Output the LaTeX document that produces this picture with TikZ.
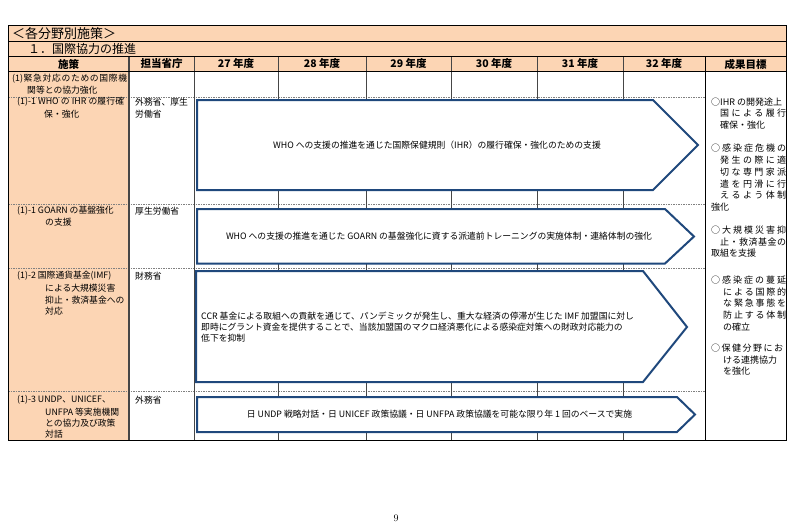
\documentclass[tikz,border=0pt]{standalone}
\usepackage{fontspec}
\newfontfamily\jp{Noto Sans CJK JP}
\usepackage{tikz}
\definecolor{peach}{RGB}{252,213,180}
\definecolor{planblue}{RGB}{31,72,124}
\definecolor{gridgray}{RGB}{70,70,70}
\makeatletter
\newcommand\spreadline[2]{\makebox[#1][s]{\@tfor\sp@tok:=#2\do{\sp@tok\hfil}\unskip}}
\makeatother
\begin{document}
\begin{tikzpicture}[x=1pt,y=-1pt]
\tikzstyle{every node}=[inner sep=0pt,font=\jp\fontsize{8.8}{10}\selectfont]
\tikzstyle{cell}=[anchor=west]
\tikzstyle{head}=[font=\jp\bfseries\fontsize{10.5}{12}\selectfont]
\tikzstyle{goal}=[anchor=west,font=\jp\fontsize{9}{11}\selectfont]
\tikzstyle{plan}=[draw=planblue,line width=2pt,fill=white,line join=miter]
\tikzstyle{plantext}=[font=\jp\fontsize{8.8}{11}\selectfont]
\tikzstyle{grid}=[gridgray,line width=0.7pt]
\tikzstyle{rowline}=[gray,line width=0.5pt,dash pattern=on 1.5pt off 1pt]

\useasboundingbox (0,0) rectangle (800,531);
\fill[peach] (8,25) rectangle (786,71.5);
\fill[peach] (8,71.5) rectangle (129,440);

\draw[rowline] (8,97) -- (705,97) (8,204) -- (705,204) (8,268) -- (705,268) (8,391) -- (705,391);
\draw[grid] (194,56.5) -- (194,440) (278,56.5) -- (278,440) (366,56.5) -- (366,440)
  (451,56.5) -- (451,440) (537,56.5) -- (537,440) (623,56.5) -- (623,440);
\draw[gridgray,line width=1.4pt] (129,56.5) -- (129,440);
\draw[black,line width=0.8pt] (705,56.5) -- (705,440);
\draw[black,line width=0.8pt] (8,41.5) -- (786,41.5) (8,56.5) -- (786,56.5) (8,71.5) -- (786,71.5);
\draw[black,line width=1pt] (8,25) rectangle (786,440);

\draw[plan] (197,100) -- (653,100) -- (698,145) -- (653,190) -- (197,190) -- cycle;
\draw[plan] (197,209) -- (665,209) -- (694,236.5) -- (665,263.5) -- (197,263.5) -- cycle;
\draw[plan] (196,271) -- (643,271) -- (687,327) -- (643,382) -- (196,382) -- cycle;
\draw[plan] (197,397) -- (677,397) -- (695,414.5) -- (677,432) -- (197,432) -- cycle;

\node[anchor=west,font=\jp\fontsize{13}{15}\selectfont] (title) at (12,33.5) {＜各分野別施策＞};
\node[anchor=west,font=\jp\fontsize{12}{14}\selectfont] (field) at (28,49.3) {１．国際協力の推進};

\node[head] (hmeasure) at (68.5,64) {施策};
\node[head] (hmin) at (161.5,64) {担当省庁};
\node[head] (h27) at (236,64) {27 年度};
\node[head] (h28) at (322,64) {28 年度};
\node[head] (h29) at (408.5,64) {29 年度};
\node[head] (h30) at (494,64) {30 年度};
\node[head] (h31) at (580,64) {31 年度};
\node[head] (h32) at (664,64) {32 年度};
\node[head] (hgoal) at (745.5,64) {成果目標};

\node[cell] (m1a) at (12,79) {\spreadline{115pt}{{(1)}緊急対応のための国際機}};
\node[cell] (m1b) at (27,90.5) {関等との協力強化};
\node[cell] (who1a) at (17,102) {\spreadline{107pt}{{(1)-1 }{WHO }{の }{IHR }{の}履行確}};
\node[cell] (who1b) at (44,114) {保・強化};
\node[cell] (goarn1a) at (17,211) {(1)-1 GOARN の基盤強化};
\node[cell] (goarn1b) at (45,222) {の支援};
\node[cell] (imf1a) at (17,276) {(1)-2 国際通貨基金(IMF)};
\node[cell] (imf1b) at (45,288) {による大規模災害};
\node[cell] (imf1c) at (45,300) {抑止・救済基金への};
\node[cell] (imf1d) at (45,311.5) {対応};
\node[cell] (un1a) at (17,400) {(1)-3 UNDP、UNICEF、};
\node[cell] (un1b) at (45,411.7) {UNFPA 等実施機関};
\node[cell] (un1c) at (45,423.2) {との協力及び政策};
\node[cell] (un1d) at (45,434.5) {対話};

\node[cell] (whomin) at (135,102) {外務省、厚生};
\node[cell] (whominb) at (135,114) {労働省};
\node[cell] (goarnmin) at (135,211) {厚生労働省};
\node[cell] (imfmin) at (135,276) {財務省};
\node[cell] (unmin) at (135,400) {外務省};

\node[plantext] (whoplan) at (437,145) {WHO への支援の推進を通じた国際保健規則（IHR）の履行確保・強化のための支援};
\node[plantext] (goarnplan) at (439,236.5) {WHO への支援の推進を通じた GOARN の基盤強化に資する派遣前トレーニングの実施体制・連絡体制の強化};
\node[plantext,anchor=west,align=left] (imfplan) at (201,326.7) {CCR 基金による取組への貢献を通じて、パンデミックが発生し、重大な経済の停滞が生じた IMF 加盟国に対し\\即時にグラント資金を提供することで、当該加盟国のマクロ経済悪化による感染症対策への財政対応能力の\\低下を抑制};
\node[plantext] (unplan) at (439.5,414.5) {日 UNDP 戦略対話・日 UNICEF 政策協議・日 UNFPA 政策協議を可能な限り年 1 回のベースで実施};

\node[goal] (g1a) at (711,101.7) {○IHR の開発途上};
\node[goal] (g1b) at (720,113.3) {\spreadline{66pt}{国による履行}};
\node[goal] (g1c) at (720,125) {確保・強化};
\node[goal] (g2a) at (711,148.5) {\spreadline{75pt}{○感染症危機の}};
\node[goal] (g2b) at (720,160.2) {\spreadline{66pt}{発生の際に適}};
\node[goal] (g2c) at (720,171.9) {\spreadline{66pt}{切な専門家派}};
\node[goal] (g2d) at (720,183.6) {\spreadline{66pt}{遣を円滑に行}};
\node[goal] (g2e) at (720,195.3) {\spreadline{66pt}{えるよう体制}};
\node[goal] (g2f) at (711,207) {強化};
\node[goal] (g3a) at (711,230) {\spreadline{75pt}{○大規模災害抑}};
\node[goal] (g3b) at (720,241.7) {\spreadline{66pt}{止・救済基金の}};
\node[goal] (g3c) at (711,253.4) {取組を支援};
\node[goal] (g4a) at (711,280) {\spreadline{75pt}{○感染症の蔓延}};
\node[goal] (g4b) at (723,291.7) {\spreadline{63pt}{による国際的}};
\node[goal] (g4c) at (723,303.4) {\spreadline{63pt}{な緊急事態を}};
\node[goal] (g4d) at (723,315.1) {\spreadline{63pt}{防止する体制}};
\node[goal] (g4e) at (723,326.8) {の確立};
\node[goal] (g5a) at (711,348) {\spreadline{72pt}{○保健分野にお}};
\node[goal] (g5b) at (723,359.7) {ける連携協力};
\node[goal] (g5c) at (723,371.4) {を強化};

\node[font=\fontsize{10}{12}\selectfont] (page) at (396,518) {9};
\end{tikzpicture}
\end{document}
